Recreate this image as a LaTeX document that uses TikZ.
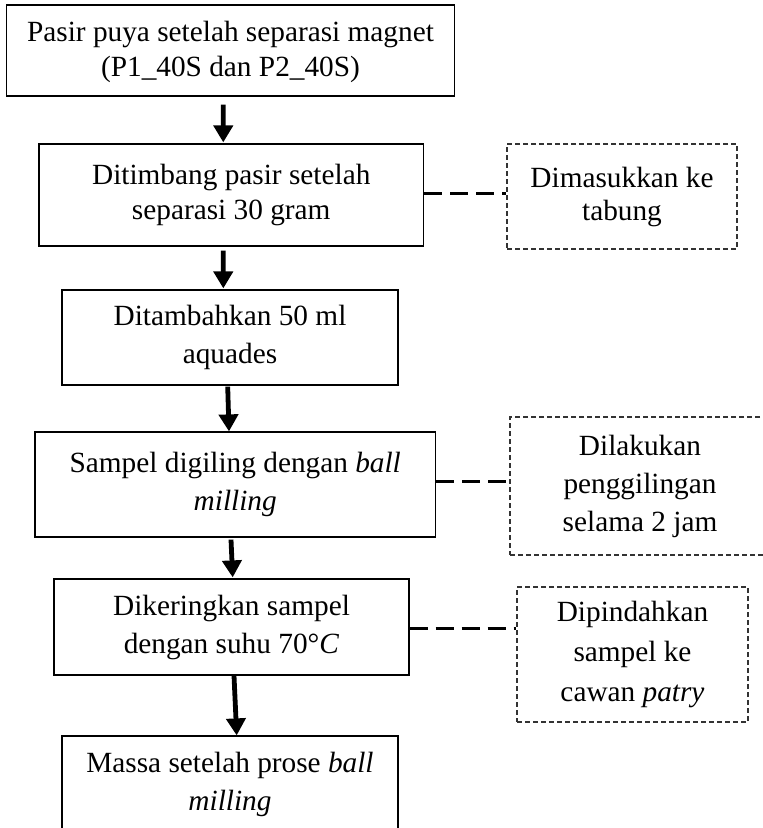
\documentclass[tikz,border=0pt]{standalone}
\usepackage{fontspec}
\setmainfont{Liberation Serif}
\usetikzlibrary{arrows.meta,calc}
\begin{document}
\begin{tikzpicture}[x=1pt,y=-1pt,
  stepbox/.style={draw=black,line width=1.2pt,inner sep=0pt,align=center,
    font=\fontsize{29.3}{38}\selectfont},
  notebox/.style={draw=black!80,line width=1.1pt,dash pattern=on 5pt off 3pt,
    inner sep=0pt,align=center,font=\fontsize{29.3}{38}\selectfont},
  flow/.style={line width=4.8pt,-{Triangle[length=17pt,width=19pt]}},
  link/.style={line width=3pt,dash pattern=on 18pt off 8pt}]
\useasboundingbox (0,0) rectangle (763,828);
\clip (0,0) rectangle (763,828);

% main process steps
\node[stepbox,minimum width=448pt,minimum height=91pt,
  font=\fontsize{29.3}{35}\selectfont] (b1) at (230.5,50.5)
  {\rule{0pt}{24pt}Pasir puya setelah separasi magnet\\(P1\_40S dan P2\_40S)};
\node[stepbox,minimum width=384.5pt,minimum height=102pt,
  font=\fontsize{29.3}{35}\selectfont] (b2) at (231.25,195)
  {Ditimbang pasir setelah\\separasi 30 gram};
\node[stepbox,minimum width=336pt,minimum height=95pt] (b3) at (230,337.5)
  {Ditambahkan 50 ml\\aquades};
\node[stepbox,minimum width=400.5pt,minimum height=105pt] (b4) at (235.25,484.5)
  {Sampel digiling dengan \textit{ball}\\\textit{milling}};
\node[stepbox,minimum width=355pt,minimum height=96pt] (b5) at (231.5,627)
  {Dikeringkan sampel\\dengan suhu 70°\textit{C}};
\node[stepbox,minimum width=336pt,minimum height=96pt] (b6) at (230,784)
  {Massa setelah prose \textit{ball}\\\textit{milling}};

% side notes
\node[notebox,minimum width=230pt,minimum height=105pt,
  font=\fontsize{29.3}{33}\selectfont] (d2) at (622,196.5)
  {Dimasukkan ke\\tabung};
\node[notebox,minimum width=260pt,minimum height=138pt] (d4) at (640,486)
  {Dilakukan\\penggilingan\\selama 2 jam};
\node[notebox,minimum width=231pt,minimum height=135pt,
  font=\fontsize{29.3}{40}\selectfont] (d5) at (632.5,654.5)
  {Dipindahkan\\sampel ke\\cawan \textit{patry}};

% flow arrows
\draw[flow] ([xshift=-7.2pt,yshift=-8pt]b1.south) -- ([xshift=-8pt,yshift=1pt]b2.north);
\draw[flow] ([xshift=-8pt,yshift=-4pt]b2.south) -- ([xshift=-6.7pt,yshift=1pt]b3.north);
\draw[flow] ([xshift=-2.3pt,yshift=-1pt]b3.south) -- ([xshift=-6.25pt]b4.north);
\draw[flow] ([xshift=-4.25pt,yshift=-2pt]b4.south) -- ([xshift=1.2pt,yshift=1pt]b5.north);
\draw[flow] ([xshift=2.5pt]b5.south) -- ([xshift=6.7pt]b6.north);

% dashed links to the side notes
\draw[link] ($(b2.east)+(0,-2)$) -- ($(b2.east -| d2.west)+(0,-2)$);
\draw[link] ($(b4.east)+(0,-3.5)$) -- ($(b4.east -| d4.west)+(0,-3.5)$);
\draw[link] ($(b5.east)+(0,1)$) -- ($(b5.east -| d5.west)+(0,1)$);
\end{tikzpicture}
\end{document}
